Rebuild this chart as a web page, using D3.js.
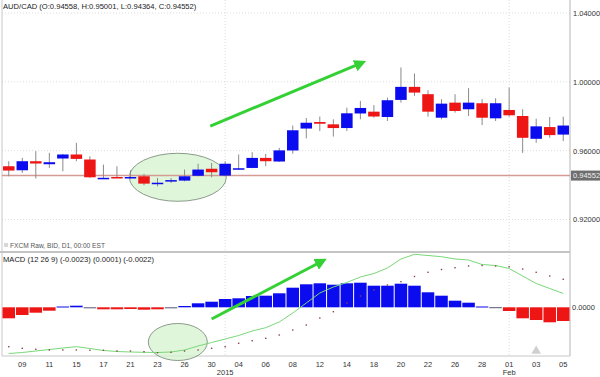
<!DOCTYPE html>
<html>
<head>
<meta charset="utf-8">
<script src="https://cdn.jsdelivr.net/npm/d3@7"></script>
<style>
  body { margin: 0; background: #fff; }
  text { font-family: "Liberation Sans", Arial, sans-serif; }
</style>
</head>
<body>
<svg id="chart" width="600" height="377"></svg>
<script>
// daily candles, AUD/CAD
const dates = [
  "2014-12-08","2014-12-09","2014-12-10","2014-12-11","2014-12-14","2014-12-15","2014-12-16",
  "2014-12-17","2014-12-18","2014-12-21","2014-12-22","2014-12-23","2014-12-24","2014-12-26",
  "2014-12-29","2014-12-30","2015-01-02","2015-01-04","2015-01-05","2015-01-06","2015-01-07",
  "2015-01-08","2015-01-09","2015-01-12","2015-01-13","2015-01-14","2015-01-15","2015-01-18",
  "2015-01-19","2015-01-20","2015-01-21","2015-01-22","2015-01-23","2015-01-26","2015-01-27",
  "2015-01-28","2015-01-29","2015-02-01","2015-02-02","2015-02-03","2015-02-04","2015-02-05"
];
const open = [0.95095,0.94861,0.95387,0.95212,0.95545,0.95778,0.95486,0.94383,0.94470,0.94435,0.94511,0.94102,0.94260,0.94260,0.94540,0.94949,0.94552,0.94943,0.94996,0.95580,0.95369,0.96012,0.97285,0.97664,0.97530,0.97314,0.98161,0.98266,0.97956,0.98949,0.99708,0.99282,0.97915,0.98791,0.98406,0.98756,0.97880,0.98365,0.98015,0.96689,0.97372,0.96934];
const high = [0.95387,0.95580,0.95971,0.95872,0.95813,0.96455,0.95679,0.95194,0.95095,0.94861,0.94645,0.94412,0.94412,0.94902,0.95241,0.95288,0.95387,0.95778,0.95912,0.95813,0.96163,0.97460,0.97898,0.97985,0.97822,0.98499,0.98891,0.98645,0.99083,1.00835,1.00485,0.99515,0.98990,0.99282,0.99632,0.98990,0.99048,0.99667,0.98406,0.97857,0.97956,0.97974];
const low = [0.94511,0.94704,0.94377,0.94996,0.94803,0.95387,0.94424,0.94359,0.94412,0.94377,0.93985,0.93927,0.94120,0.94219,0.94511,0.94453,0.94511,0.94902,0.94978,0.95095,0.95346,0.95825,0.96712,0.97139,0.96818,0.97139,0.97822,0.97915,0.97723,0.98791,0.99182,0.97974,0.97822,0.98207,0.98015,0.97489,0.97723,0.97974,0.95872,0.96455,0.96747,0.96555];
const close = [0.94844,0.95387,0.95253,0.95328,0.95778,0.95521,0.94453,0.94423,0.94435,0.94470,0.94085,0.94137,0.94289,0.94511,0.94902,0.94745,0.95241,0.94978,0.95580,0.95387,0.96017,0.97185,0.97623,0.97565,0.97314,0.98172,0.98482,0.97985,0.98931,0.99708,0.99375,0.98266,0.98733,0.98307,0.98791,0.97915,0.98756,0.98055,0.96747,0.97413,0.96905,0.97460];

// MACD (12 26 9)
const macd = [-0.00462,-0.00452,-0.00437,-0.00422,-0.00407,-0.00394,-0.00412,-0.00432,-0.00442,-0.00447,-0.0045,-0.00452,-0.00447,-0.00427,-0.00387,-0.00352,-0.00317,-0.00282,-0.00237,-0.00204,-0.00147,-0.00057,0.00043,0.00143,0.00203,0.00248,0.00303,0.00338,0.00393,0.00483,0.0053,0.00518,0.00506,0.00483,0.00473,0.00428,0.00418,0.00388,0.00313,0.00238,0.00188,0.00138];
const signal = [-0.00394,-0.0041,-0.0042,-0.00427,-0.00427,-0.00427,-0.0043,-0.0043,-0.00437,-0.00437,-0.00444,-0.00454,-0.0045,-0.00437,-0.00427,-0.0041,-0.00394,-0.0036,-0.00334,-0.0031,-0.00277,-0.00227,-0.00177,-0.00107,-0.00044,0.00043,0.00113,0.00173,0.00223,0.00256,0.00308,0.0035,0.00378,0.00396,0.00413,0.00418,0.00413,0.00406,0.00383,0.0035,0.00313,0.0028];
const hist = [-0.0011,-0.00077,-0.00054,-0.00034,0.00008,0.00016,-0.00002,-0.0002,-0.0002,-0.00017,-0.00024,-0.0002,-0.00004,0.00013,0.0004,0.00056,0.00083,0.0009,0.00113,0.00116,0.0014,0.00196,0.0023,0.0024,0.00226,0.0024,0.00246,0.00216,0.00216,0.00236,0.00216,0.0015,0.00116,0.00066,0.00046,0.00008,0.00001,-0.00037,-0.0011,-0.00127,-0.0015,-0.00137];

const priceTicks = [0.92, 0.96, 1.00, 1.04];
const lastPrice = 0.94552;
const title = "AUD/CAD (O:0.94558, H:0.95001, L:0.94364, C:0.94552)";
const sourceNote = "FXCM Raw, BID, D1, 00:00 EST";
const macdTitle = "MACD (12 26 9)  (-0.0023) (0.0001) (-0.0022)";

// hand drawn markup, in candle index / value units
const arrows = [
  { panel: "price", from: [14.9, 0.9743], to: [26.1, 1.0110] },
  { panel: "macd", from: [15.0, -0.00117], to: [23.2, 0.00463] }
];
const ellipses = [
  { panel: "price", at: [12.5, 0.94453], rx: 48.5, ry: 24 },
  { panel: "macd", at: [12.5, -0.00347], rx: 29.5, ry: 18.5 }
];

const svg = d3.select("#chart");
const L = 2, R = 570;
const blue = "#0b0bef", red = "#ee1515";

const x = d3.scaleBand().domain(dates).range([L, R]).padding(0);
const cx = d => x(d) + x.bandwidth() / 2;
const xi = d3.scaleLinear().domain([-0.5, dates.length - 0.5]).range([L, R]);
const y = d3.scaleLinear().domain([0.92, 1.04]).range([219.5, 13]);
const ym = d3.scaleLinear().domain([-0.005, 0.005]).range([357.3, 257.3]);
const scaleOf = p => p === "price" ? y : ym;

const candles = dates.map((d, i) => ({ d, o: open[i], h: high[i], l: low[i], c: close[i] }));

// gridlines
svg.append("g").selectAll("line").data(priceTicks).join("line")
  .attr("x1", L).attr("x2", R)
  .attr("y1", d => y(d)).attr("y2", d => y(d))
  .attr("stroke", "#dcdcdc").attr("stroke-dasharray", "1,2");

const monthStarts = dates.filter((d, i) => i > 0 && d.slice(5, 7) !== dates[i - 1].slice(5, 7));
svg.append("g").selectAll("line").data(monthStarts).join("line")
  .attr("x1", d => cx(d)).attr("x2", d => cx(d))
  .attr("y1", 0).attr("y2", 356)
  .attr("stroke", "#dcdcdc").attr("stroke-dasharray", "1,2");

// frame
svg.append("line").attr("x1", L).attr("x2", L).attr("y1", 0).attr("y2", 356).attr("stroke", "#c8c8c8");
svg.append("line").attr("x1", R).attr("x2", R).attr("y1", 0).attr("y2", 356).attr("stroke", "#b5b5b5");
svg.append("line").attr("x1", 0).attr("x2", R).attr("y1", 252).attr("y2", 252).attr("stroke", "#c4c4c4").attr("stroke-width", 2);
svg.append("line").attr("x1", L).attr("x2", R).attr("y1", 356).attr("y2", 356).attr("stroke", "#c8c8c8");

// ellipses under the marks
svg.append("g").selectAll("ellipse").data(ellipses).join("ellipse")
  .attr("cx", d => xi(d.at[0])).attr("cy", d => scaleOf(d.panel)(d.at[1]))
  .attr("rx", d => d.rx).attr("ry", d => d.ry)
  .attr("fill", "#d6f3cf").attr("fill-opacity", 0.75)
  .attr("stroke", "#7f907f").attr("stroke-width", 0.9);

// last price line
svg.append("line").attr("x1", L).attr("x2", R)
  .attr("y1", y(lastPrice)).attr("y2", y(lastPrice))
  .attr("stroke", "#d49a94").attr("stroke-width", 1.5);

// candles
const bw = x.bandwidth() * 0.85;
const cg = svg.append("g");
cg.selectAll("line").data(candles).join("line")
  .attr("x1", d => cx(d.d)).attr("x2", d => cx(d.d))
  .attr("y1", d => y(d.h)).attr("y2", d => y(d.l))
  .attr("stroke", "#8a8a8a").attr("stroke-width", 1);
cg.selectAll("rect").data(candles).join("rect")
  .attr("x", d => cx(d.d) - bw / 2).attr("width", bw)
  .attr("y", d => y(Math.max(d.o, d.c)))
  .attr("height", d => Math.max(1.5, Math.abs(y(d.o) - y(d.c))))
  .attr("fill", d => d.c >= d.o ? blue : red);

// MACD histogram
svg.append("g").selectAll("rect").data(dates).join("rect")
  .attr("x", d => x(d) + 0.5).attr("width", x.bandwidth() - 1)
  .attr("y", (d, i) => ym(Math.max(0, hist[i])))
  .attr("height", (d, i) => Math.max(1, Math.abs(ym(hist[i]) - ym(0))))
  .attr("fill", (d, i) => Math.abs(hist[i]) < 0.00005 ? "#555577" : hist[i] >= 0 ? blue : red);

// MACD line and signal dots
svg.append("path").datum(dates)
  .attr("fill", "none").attr("stroke", "#79d879").attr("stroke-width", 1)
  .attr("d", d3.line().x(d => cx(d)).y((d, i) => ym(macd[i])));
svg.append("g").selectAll("rect").data(dates).join("rect")
  .attr("x", d => cx(d) - 0.7).attr("y", (d, i) => ym(signal[i]) - 0.7)
  .attr("width", 1.4).attr("height", 1.4).attr("fill", "#8a4545");

// arrows
svg.append("defs").append("marker")
  .attr("id", "head").attr("viewBox", "0 0 10 10")
  .attr("refX", 6).attr("refY", 5)
  .attr("markerWidth", 4).attr("markerHeight", 4)
  .attr("orient", "auto")
  .append("path").attr("d", "M0,0L10,5L0,10z").attr("fill", "#33d133");
svg.append("g").selectAll("line").data(arrows).join("line")
  .attr("x1", d => xi(d.from[0])).attr("y1", d => scaleOf(d.panel)(d.from[1]))
  .attr("x2", d => xi(d.to[0])).attr("y2", d => scaleOf(d.panel)(d.to[1]))
  .attr("stroke", "#33d133").attr("stroke-width", 3)
  .attr("marker-end", "url(#head)");

// right price axis
const yAxis = d3.axisRight(y).tickValues(priceTicks).tickFormat(d3.format(".5f")).tickSize(0).tickPadding(3);
svg.append("g").attr("transform", `translate(${R},0)`).call(yAxis)
  .call(g => g.select(".domain").remove())
  .selectAll("text").attr("font-size", 7.5).attr("fill", "#333");

// last price tag
const tag = svg.append("g").attr("transform", `translate(${R + 1},${y(lastPrice)})`);
tag.append("rect").attr("x", 0).attr("y", -5).attr("width", 29).attr("height", 10).attr("fill", "#6e6e6e");
tag.append("text").attr("x", 2).attr("dy", "0.34em").attr("font-size", 7.5).attr("fill", "#eee").text(d3.format(".5f")(lastPrice));

// MACD axis
const mAxis = d3.axisRight(ym).tickValues([0]).tickFormat(d3.format(".4f")).tickSize(0).tickPadding(2);
svg.append("g").attr("transform", `translate(${R},0)`).call(mAxis)
  .call(g => g.select(".domain").remove())
  .selectAll("text").attr("font-size", 7.5).attr("fill", "#333");

// date axis
const xAxis = d3.axisBottom(x).tickValues(dates.filter((d, i) => i % 2 === 1))
  .tickFormat(d => d.slice(8)).tickSize(0).tickPadding(5);
svg.append("g").attr("transform", "translate(0,357)").call(xAxis)
  .call(g => g.select(".domain").remove())
  .selectAll("text").attr("font-size", 7.5).attr("fill", "#333");
const monthName = d3.timeFormat("%b");
svg.append("g").selectAll("text").data(monthStarts).join("text")
  .attr("x", d => cx(d)).attr("y", 375)
  .attr("text-anchor", "middle").attr("font-size", 7.5).attr("fill", "#333")
  .text(d => d.slice(0, 4) !== dates[dates.indexOf(d) - 1].slice(0, 4) ? d.slice(0, 4) : monthName(new Date(d + "T12:00")));

// event marker
svg.append("path")
  .attr("transform", `translate(${cx(dates[39])},351)`)
  .attr("d", d3.symbol(d3.symbolTriangle, 40)).attr("fill", "#cfcfcf");

// titles
svg.append("text").attr("x", 3).attr("y", 9).attr("font-size", 7.6).attr("fill", "#222").text(title);
svg.append("rect").attr("x", 4).attr("y", 243).attr("width", 4).attr("height", 4).attr("fill", "#d8d8d8");
svg.append("text").attr("x", 10).attr("y", 248).attr("font-size", 6.6).attr("fill", "#555").text(sourceNote);
svg.append("text").attr("x", 3).attr("y", 262).attr("font-size", 7.6).attr("fill", "#222").text(macdTitle);
</script>
</body>
</html>
